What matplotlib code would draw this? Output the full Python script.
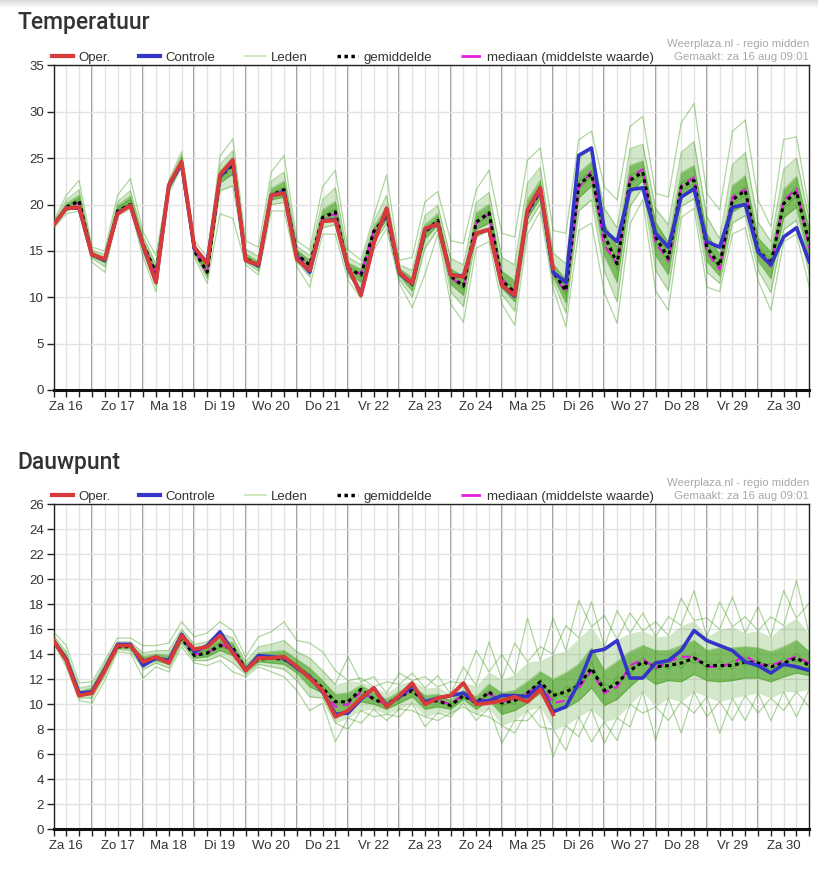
import numpy as np
import pandas as pd
import matplotlib
matplotlib.use("Agg")
import matplotlib.pyplot as plt
from matplotlib.lines import Line2D

# 6-hourly forecast steps, Za 16 06:00 .. Zo 31 00:00
times = pd.date_range("2025-08-16 06:00", "2025-08-31 00:00", freq="6h")
day_labels = ["Za 16", "Zo 17", "Ma 18", "Di 19", "Wo 20", "Do 21", "Vr 22", "Za 23",
              "Zo 24", "Ma 25", "Di 26", "Wo 27", "Do 28", "Vr 29", "Za 30"]

# ---- Temperatuur ----
temp_oper = [17.8, 19.6, 19.7, 14.6, 14.1, 19.0, 19.9, 15.6, 11.6, 22.1,
             24.6, 15.4, 13.6, 23.2, 24.8, 14.0, 13.5, 21.0, 21.2, 14.1,
             12.9, 18.2, 18.3, 13.3, 10.2, 15.8, 19.6, 12.7, 11.5, 17.4,
             17.9, 12.4, 12.2, 16.9, 17.3, 11.3, 10.2, 19.4, 21.8, 13.1]
temp_ctrl = [17.8, 19.6, 19.6, 14.6, 14.0, 19.1, 19.9, 15.5, 11.7, 22.0,
             24.4, 15.2, 13.8, 23.0, 24.6, 14.0, 13.4, 21.0, 21.3, 14.3,
             12.7, 18.2, 18.4, 13.1, 10.4, 15.9, 19.5, 12.6, 11.5, 17.3,
             17.9, 12.4, 12.3, 16.9, 17.3, 11.3, 10.1, 19.3, 21.7, 12.7,
             11.6, 25.3, 26.1, 17.2, 16.0, 21.6, 21.8, 16.9, 15.4, 20.8,
             21.7, 16.0, 15.4, 19.7, 20.0, 14.9, 13.5, 16.5, 17.5, 13.8]
temp_mean = [17.8, 19.7, 20.4, 14.6, 14.0, 19.3, 20.0, 15.7, 12.6, 22.0,
             24.4, 15.0, 12.7, 23.0, 24.3, 14.2, 13.4, 21.0, 21.6, 14.6,
             13.5, 18.6, 19.2, 13.1, 12.4, 17.1, 18.8, 12.6, 11.4, 17.0,
             18.3, 12.3, 11.2, 18.1, 19.1, 11.8, 10.5, 19.1, 21.5, 12.8,
             10.7, 22.1, 23.3, 16.7, 13.6, 22.6, 23.5, 16.5, 14.2, 21.9,
             22.6, 15.4, 13.4, 20.5, 21.5, 15.1, 13.6, 20.1, 21.4, 15.8]
temp_median = [17.8, 19.7, 20.2, 14.6, 14.0, 19.2, 20.0, 15.6, 12.5, 22.0,
               24.5, 15.1, 12.6, 23.1, 24.5, 14.1, 13.4, 21.0, 21.5, 14.5,
               13.4, 18.5, 19.0, 13.0, 12.5, 17.2, 18.6, 12.5, 11.3, 17.0,
               18.2, 12.2, 11.1, 18.0, 19.0, 11.9, 10.6, 19.0, 21.3, 12.6,
               10.5, 21.8, 23.6, 15.6, 13.6, 22.9, 23.8, 15.9, 13.9, 22.0,
               22.9, 14.9, 13.0, 20.8, 21.6, 14.8, 13.3, 20.4, 21.7, 15.3]
# ensemble members, one row per time step
temp_members = [
    [17.4, 17.6, 17.7, 17.8, 17.8, 17.9, 18.0, 18.2],
    [19.0, 19.3, 19.5, 19.7, 19.9, 20.1, 20.5, 21.0],
    [19.3, 19.8, 20.1, 20.3, 20.6, 21.0, 21.6, 22.6],
    [13.8, 14.2, 14.4, 14.6, 14.7, 14.9, 15.1, 15.4],
    [12.7, 13.3, 13.7, 13.9, 14.1, 14.3, 14.6, 15.0],
    [18.8, 19.0, 19.2, 19.4, 19.6, 19.9, 20.3, 21.0],
    [19.5, 19.8, 20.0, 20.2, 20.5, 20.9, 21.5, 22.8],
    [14.3, 14.8, 15.2, 15.5, 15.8, 16.1, 16.5, 17.0],
    [10.6, 11.2, 11.8, 12.3, 12.7, 13.1, 13.6, 14.5],
    [21.2, 21.5, 21.7, 21.9, 22.1, 22.2, 22.4, 22.6],
    [24.0, 24.3, 24.5, 24.7, 24.9, 25.1, 25.3, 25.7],
    [14.3, 14.6, 14.8, 15.0, 15.2, 15.4, 15.7, 16.1],
    [11.5, 12.0, 12.3, 12.6, 12.8, 13.1, 13.6, 14.3],
    [19.0, 21.5, 22.3, 22.8, 23.2, 23.6, 24.3, 25.2],
    [18.5, 22.0, 23.3, 24.0, 24.6, 25.1, 25.8, 27.1],
    [13.5, 13.8, 14.0, 14.2, 14.4, 14.7, 15.2, 16.1],
    [12.4, 12.8, 13.1, 13.3, 13.5, 13.8, 14.4, 15.4],
    [19.3, 20.0, 20.5, 20.9, 21.2, 21.7, 22.5, 23.5],
    [19.3, 20.2, 20.8, 21.3, 21.8, 22.5, 23.5, 25.3],
    [13.3, 13.8, 14.2, 14.5, 14.8, 15.1, 15.5, 16.1],
    [11.1, 12.2, 12.8, 13.2, 13.6, 14.0, 14.5, 15.1],
    [16.8, 17.5, 18.0, 18.4, 18.8, 19.4, 20.5, 21.9],
    [16.8, 17.8, 18.5, 19.0, 19.5, 20.3, 21.8, 23.7],
    [11.8, 12.3, 12.7, 13.0, 13.3, 13.7, 14.3, 15.1],
    [9.9, 10.8, 11.6, 12.1, 12.6, 13.0, 13.5, 14.0],
    [15.1, 15.9, 16.5, 16.9, 17.2, 17.6, 18.1, 18.7],
    [17.4, 17.9, 18.3, 18.7, 19.1, 19.7, 21.0, 23.2],
    [11.5, 11.9, 12.3, 12.6, 12.8, 13.1, 13.5, 14.0],
    [8.9, 10.0, 10.7, 11.2, 11.6, 12.1, 12.9, 14.3],
    [12.5, 15.3, 16.3, 16.9, 17.3, 17.8, 18.8, 20.3],
    [16.8, 17.3, 17.8, 18.1, 18.5, 19.0, 19.9, 21.4],
    [9.3, 10.6, 11.4, 12.0, 12.5, 13.1, 14.2, 16.1],
    [7.3, 9.0, 10.2, 10.9, 11.5, 12.2, 13.5, 15.8],
    [15.3, 16.5, 17.3, 17.9, 18.5, 19.1, 20.2, 21.6],
    [16.0, 17.2, 18.0, 18.7, 19.3, 20.0, 21.3, 23.7],
    [9.3, 10.3, 11.0, 11.6, 12.1, 12.8, 14.3, 16.9],
    [7.0, 8.5, 9.5, 10.2, 10.9, 11.8, 13.5, 16.5],
    [16.8, 17.8, 18.5, 19.0, 19.6, 20.5, 22.3, 24.8],
    [19.3, 20.0, 20.7, 21.2, 21.8, 22.6, 24.0, 26.1],
    [11.0, 11.7, 12.2, 12.6, 13.0, 13.6, 14.8, 17.2],
    [6.8, 8.3, 9.4, 10.3, 11.0, 11.9, 13.6, 16.9],
    [17.2, 19.3, 20.7, 21.7, 22.5, 23.4, 24.9, 27.0],
    [18.0, 20.5, 22.0, 23.0, 23.7, 24.6, 26.0, 27.9],
    [10.5, 12.8, 14.5, 15.8, 16.8, 17.9, 19.6, 21.9],
    [7.2, 9.5, 11.6, 13.0, 14.1, 15.4, 17.5, 20.5],
    [17.9, 19.8, 21.2, 22.2, 23.1, 24.2, 26.0, 28.4],
    [20.5, 21.8, 22.6, 23.2, 23.8, 24.7, 26.5, 29.5],
    [10.7, 12.9, 14.5, 16.0, 17.0, 18.1, 19.6, 21.2],
    [8.6, 10.7, 12.4, 13.7, 14.7, 15.9, 17.8, 20.8],
    [18.6, 19.8, 20.8, 21.5, 22.3, 23.4, 25.6, 28.8],
    [19.6, 20.6, 21.5, 22.2, 23.0, 24.2, 26.8, 30.9],
    [11.1, 12.7, 13.9, 15.0, 15.8, 16.9, 18.7, 21.2],
    [10.6, 11.5, 12.3, 13.0, 13.7, 14.6, 16.3, 19.4],
    [16.8, 18.0, 19.2, 20.1, 20.9, 22.0, 24.3, 27.9],
    [17.5, 18.8, 20.0, 21.0, 21.9, 23.1, 25.6, 29.1],
    [11.8, 12.9, 13.9, 14.7, 15.5, 16.4, 18.1, 20.5],
    [8.6, 10.5, 12.0, 13.2, 14.0, 14.9, 16.0, 17.6],
    [16.0, 17.3, 18.6, 19.6, 20.5, 21.6, 23.8, 27.0],
    [16.8, 18.3, 19.7, 20.9, 21.9, 23.0, 25.0, 27.3],
    [11.1, 12.5, 13.9, 15.2, 16.3, 17.3, 18.4, 19.4],
]

# ---- Dauwpunt ----
dew_oper = [15.1, 13.5, 10.7, 10.9, 12.7, 14.7, 14.7, 13.4, 13.8, 13.3,
            15.5, 14.4, 14.6, 15.5, 14.1, 12.7, 13.7, 13.7, 13.8, 13.0,
            12.1, 11.1, 9.0, 9.5, 10.5, 11.3, 9.8, 10.7, 11.7, 10.0,
            10.5, 10.7, 11.7, 10.0, 10.1, 10.3, 10.6, 10.2, 11.2, 9.2]
dew_ctrl = [15.1, 13.6, 10.9, 11.0, 12.8, 14.8, 14.8, 13.1, 13.7, 13.5,
            15.6, 14.2, 14.7, 15.8, 14.2, 12.7, 13.9, 13.8, 13.7, 12.9,
            12.2, 11.0, 9.2, 9.3, 10.4, 11.3, 9.9, 10.6, 11.5, 10.2,
            10.5, 10.7, 10.9, 10.2, 10.3, 10.7, 10.7, 10.6, 11.5, 9.4,
            9.8, 11.7, 14.2, 14.4, 15.1, 12.1, 12.1, 13.3, 13.5, 14.3,
            15.9, 15.1, 14.7, 14.3, 13.4, 13.1, 12.5, 13.2, 13.0, 12.7]
dew_mean = [15.1, 13.6, 10.8, 11.0, 12.8, 14.6, 14.6, 13.5, 13.7, 13.5,
            15.3, 13.9, 14.1, 14.7, 14.5, 12.8, 13.6, 13.7, 13.6, 13.0,
            12.2, 11.3, 10.2, 10.2, 11.2, 10.4, 10.0, 10.6, 11.1, 10.2,
            10.3, 9.9, 10.7, 10.1, 11.0, 10.1, 10.3, 10.9, 11.8, 10.7,
            11.0, 11.5, 12.9, 11.1, 11.7, 12.7, 13.4, 13.0, 13.1, 13.3,
            13.7, 13.1, 13.1, 13.1, 13.4, 13.3, 13.0, 13.3, 13.7, 13.1]
dew_median = [15.1, 13.6, 10.8, 11.0, 12.8, 14.6, 14.7, 13.5, 13.7, 13.5,
              15.4, 14.0, 14.1, 14.8, 14.4, 12.8, 13.6, 13.7, 13.7, 13.0,
              12.1, 11.1, 9.8, 10.0, 11.0, 10.4, 10.0, 10.6, 11.2, 10.1,
              10.3, 10.0, 10.8, 10.0, 10.9, 10.2, 10.4, 10.9, 11.6, 10.1,
              10.3, 11.3, 12.7, 10.9, 11.4, 13.1, 13.6, 12.9, 13.4, 13.8,
              13.8, 13.0, 13.0, 13.3, 13.9, 13.2, 13.1, 13.5, 13.8, 13.3]
dew_members = [
    [14.9, 15.0, 15.1, 15.1, 15.2, 15.3, 15.5, 15.8],
    [13.0, 13.3, 13.5, 13.6, 13.7, 13.9, 14.2, 14.7],
    [10.3, 10.5, 10.7, 10.8, 10.9, 11.0, 11.3, 11.7],
    [10.1, 10.5, 10.8, 10.9, 11.1, 11.3, 11.5, 11.8],
    [11.9, 12.3, 12.6, 12.8, 12.9, 13.1, 13.3, 13.5],
    [14.2, 14.4, 14.5, 14.6, 14.7, 14.8, 15.0, 15.3],
    [14.1, 14.3, 14.5, 14.6, 14.7, 14.8, 15.0, 15.3],
    [12.1, 12.8, 13.2, 13.4, 13.6, 13.8, 14.1, 14.7],
    [13.0, 13.3, 13.5, 13.7, 13.8, 14.0, 14.3, 14.7],
    [12.6, 12.9, 13.2, 13.4, 13.6, 13.9, 14.3, 14.9],
    [14.6, 14.9, 15.1, 15.3, 15.5, 15.7, 16.0, 16.6],
    [13.3, 13.5, 13.7, 13.9, 14.1, 14.4, 14.8, 15.4],
    [13.1, 13.5, 13.8, 14.0, 14.3, 14.6, 15.0, 15.7],
    [13.5, 13.9, 14.3, 14.6, 14.9, 15.2, 15.7, 16.6],
    [12.6, 13.3, 13.9, 14.3, 14.6, 14.9, 15.3, 15.9],
    [12.2, 12.4, 12.6, 12.8, 12.9, 13.1, 13.4, 13.8],
    [13.0, 13.2, 13.4, 13.6, 13.8, 14.1, 14.6, 15.4],
    [12.6, 13.0, 13.3, 13.6, 13.8, 14.2, 14.8, 15.8],
    [12.2, 12.8, 13.2, 13.5, 13.8, 14.3, 15.1, 16.6],
    [11.1, 11.9, 12.5, 12.9, 13.2, 13.6, 14.2, 15.1],
    [9.5, 10.6, 11.4, 12.0, 12.4, 12.9, 13.7, 14.9],
    [10.1, 10.5, 10.9, 11.2, 11.5, 11.9, 12.7, 14.2],
    [7.0, 8.5, 9.3, 9.9, 10.3, 10.8, 11.6, 12.7],
    [8.9, 8.0, 9.5, 10.4, 10.0, 10.9, 13.8, 11.9],
    [8.5, 9.5, 10.2, 10.8, 11.2, 11.5, 11.8, 12.1],
    [9.6, 9.0, 10.0, 10.6, 10.3, 10.9, 12.2, 11.4],
    [8.7, 9.2, 9.6, 9.9, 10.1, 10.4, 10.9, 11.8],
    [9.6, 9.0, 10.1, 10.7, 10.4, 11.0, 12.5, 11.6],
    [9.5, 10.1, 10.6, 10.9, 11.2, 11.5, 11.9, 12.5],
    [9.0, 8.2, 9.6, 10.3, 10.0, 10.7, 12.2, 11.3],
    [8.7, 9.3, 9.8, 10.1, 10.4, 10.8, 11.4, 12.3],
    [9.3, 9.0, 9.6, 10.0, 9.8, 10.3, 11.8, 10.8],
    [9.8, 10.1, 10.4, 10.6, 10.8, 11.1, 11.7, 13.0],
    [9.2, 8.7, 9.6, 10.2, 9.9, 10.6, 14.3, 11.5],
    [9.0, 9.7, 10.3, 10.7, 11.1, 11.6, 12.6, 15.0],
    [8.3, 6.9, 9.2, 10.3, 9.8, 10.9, 14.0, 12.0],
    [7.7, 8.7, 9.5, 10.0, 10.5, 11.1, 12.4, 14.9],
    [9.5, 8.7, 10.1, 11.1, 10.6, 11.8, 16.9, 13.4],
    [8.2, 9.8, 10.9, 11.5, 12.0, 12.6, 13.5, 14.6],
    [8.0, 5.8, 9.4, 11.0, 10.3, 12.0, 16.9, 14.0],
    [6.3, 8.3, 9.7, 10.6, 11.4, 12.5, 14.3, 16.3],
    [9.0, 7.4, 10.3, 12.0, 11.2, 13.2, 18.3, 15.3],
    [7.0, 9.6, 11.3, 12.5, 13.4, 14.5, 16.2, 18.2],
    [8.6, 6.9, 9.9, 11.6, 10.8, 12.7, 17.1, 14.6],
    [7.1, 8.9, 10.4, 11.3, 12.2, 13.4, 15.2, 17.5],
    [10.0, 8.2, 11.4, 13.1, 12.3, 14.2, 17.3, 15.7],
    [9.3, 11.0, 12.3, 13.1, 13.8, 14.7, 15.9, 17.3],
    [9.8, 7.1, 11.6, 13.4, 12.7, 14.3, 16.6, 15.4],
    [8.7, 10.5, 11.9, 12.8, 13.5, 14.3, 15.5, 17.0],
    [10.2, 7.7, 11.8, 13.7, 12.9, 14.7, 18.5, 16.3],
    [9.3, 11.0, 12.4, 13.3, 14.1, 15.1, 16.7, 19.1],
    [10.6, 9.0, 11.9, 13.5, 12.8, 14.3, 16.9, 15.4],
    [7.7, 10.2, 11.8, 12.8, 13.5, 14.5, 16.0, 18.2],
    [10.5, 8.7, 11.9, 13.5, 12.8, 14.5, 18.6, 16.2],
    [8.7, 10.7, 12.1, 13.1, 13.8, 14.6, 15.7, 17.0],
    [10.9, 9.3, 12.1, 13.6, 12.9, 14.5, 17.8, 15.9],
    [8.7, 10.5, 11.8, 12.6, 13.3, 14.2, 15.4, 17.0],
    [11.0, 9.5, 12.2, 13.7, 13.0, 14.6, 19.1, 16.3],
    [9.0, 11.0, 12.5, 13.4, 14.1, 15.1, 16.9, 19.9],
    [11.2, 9.8, 12.3, 13.4, 12.9, 14.2, 18.1, 15.6],
]

RED = "#d83a3a"
BLUE = "#3434c8"
GREEN = "#3a9a12"
MAGENTA = "#e21ee2"
GRID = "#e2e2e2"
TXT = "#333333"

plt.rcParams["font.family"] = ["Liberation Sans", "DejaVu Sans"]


def draw_panel(ax, oper, ctrl, mean, median, members, ymax, ystep):
    m = np.array(members)
    srt = np.sort(m, axis=1)
    # dense core of the ensemble
    ax.fill_between(times, srt[:, 1], srt[:, 6], color=GREEN, alpha=0.22, lw=0, zorder=2)
    ax.fill_between(times, srt[:, 2], srt[:, 5], color=GREEN, alpha=0.55, lw=0, zorder=2)
    for k in range(m.shape[1]):
        ax.plot(times, m[:, k], color=GREEN, lw=0.9, alpha=0.4, zorder=3)
    ax.plot(times, median, color=MAGENTA, lw=1.6, dashes=(4, 2.5), zorder=4)
    ax.plot(times, mean, color="black", lw=2.2, linestyle=(0, (1.2, 1.2)), zorder=5)
    ax.plot(times, ctrl, color=BLUE, lw=2.6, zorder=6, solid_joinstyle="round")
    ax.plot(times[:len(oper)], oper, color=RED, lw=2.8, zorder=7, solid_joinstyle="round")

    ax.set_xlim(times[0], times[-1])
    ax.set_ylim(0, ymax)
    ax.set_yticks(np.arange(0, ymax + 1, ystep))

    noon = pd.date_range("2025-08-16 12:00", periods=len(day_labels), freq="D")
    ax.set_xticks(noon, labels=day_labels)
    ax.set_xticks(times, minor=True)
    ax.grid(True, which="both", axis="x", color=GRID, lw=1, zorder=0)
    ax.grid(True, which="major", axis="y", color=GRID, lw=1, zorder=0)
    for d in pd.date_range("2025-08-17", "2025-08-30", freq="D"):
        ax.axvline(d, color="#777777", lw=1.1, zorder=1)

    ax.tick_params(axis="both", which="both", direction="out", length=5,
                   width=1, color="#222222", labelsize=9.5, labelcolor=TXT)
    ax.tick_params(axis="x", which="major", pad=3)
    ax.tick_params(axis="y", pad=2)
    for s in ["left", "right", "top"]:
        ax.spines[s].set_color("#222222")
        ax.spines[s].set_linewidth(1)
    ax.spines["bottom"].set_linewidth(2.2)
    ax.spines["bottom"].set_color("#111111")

    handles = [
        Line2D([], [], color=RED, lw=3),
        Line2D([], [], color=BLUE, lw=3),
        Line2D([], [], color="#c6e4b6", lw=1.2),
        Line2D([], [], color="black", lw=2.5, linestyle=(0, (1, 1))),
        Line2D([], [], color=MAGENTA, lw=2, linestyle=(0, (7, 3, 1, 3))),
    ]
    labels = ["Oper.", "Controle", "Leden", "gemiddelde", "mediaan (middelste waarde)"]
    ax.legend(handles, labels, loc="lower left", bbox_to_anchor=(-0.004, 1.0),
              ncol=5, frameon=False, fontsize=9.5, handlelength=1.6,
              handletextpad=0.4, columnspacing=2.2, borderpad=0, borderaxespad=0.1,
              labelcolor=TXT)
    ax.text(1.0, 1.066, "Weerplaza.nl - regio midden", transform=ax.transAxes,
            ha="right", va="center", fontsize=8.2, color="#a8a8a8")
    ax.text(1.0, 1.026, "Gemaakt: za 16 aug 09:01", transform=ax.transAxes,
            ha="right", va="center", fontsize=8.2, color="#a8a8a8")


fig = plt.figure(figsize=(8.18, 8.73), dpi=100)
W, H = 818, 873

# light shadow strip at top
sh = fig.add_axes([0, 1 - 9 / H, 1, 9 / H])
sh.imshow(np.linspace(0.86, 1.0, 9).reshape(-1, 1), cmap="gray", vmin=0, vmax=1,
          aspect="auto", extent=(0, 1, 0, 1))
sh.axis("off")

ax1 = fig.add_axes([53.5 / W, 1 - 390 / H, 755.8 / W, 324.6 / H])
ax2 = fig.add_axes([53.5 / W, 1 - 829.3 / H, 755.8 / W, 325 / H])

draw_panel(ax1, temp_oper, temp_ctrl, temp_mean, temp_median, temp_members, 35, 5)
draw_panel(ax2, dew_oper, dew_ctrl, dew_mean, dew_median, dew_members, 26, 2)

fig.text(17 / W, 1 - 23 / H, "Temperatuur", fontsize=16.5, family=["Roboto", "DejaVu Sans"],
         weight="medium", color=TXT, va="center", ha="left")
fig.text(17 / W, 1 - 463 / H, "Dauwpunt", fontsize=16.5, family=["Roboto", "DejaVu Sans"],
         weight="medium", color=TXT, va="center", ha="left")

fig.savefig("out.png", dpi=100)
